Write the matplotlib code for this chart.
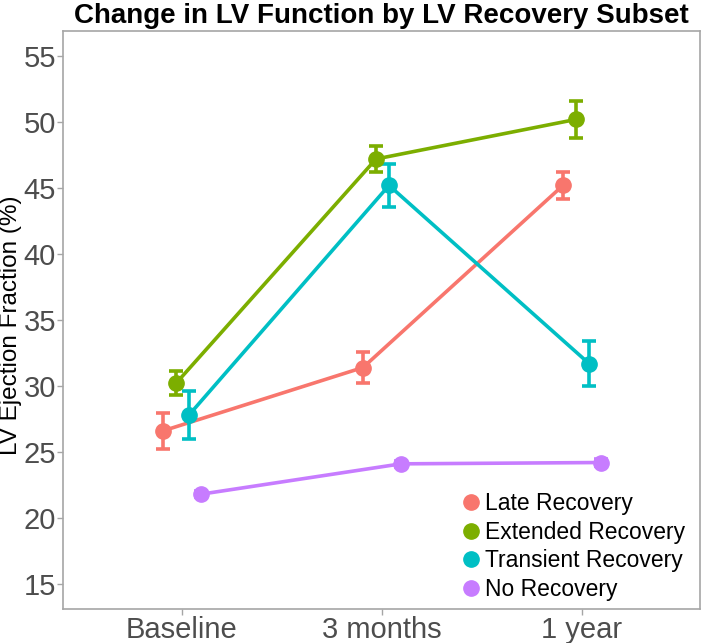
import matplotlib
matplotlib.use("Agg")
import matplotlib.pyplot as plt
from matplotlib.lines import Line2D

timepoints = ["Baseline", "3 months", "1 year"]
groups = ["Late Recovery", "Extended Recovery", "Transient Recovery", "No Recovery"]
colors = ["#F8766D", "#7CAE00", "#00BFC4", "#C77CFF"]

late_mean = [26.6, 31.4, 45.2]
late_err = [1.35, 1.2, 1.0]
extended_mean = [30.2, 47.2, 50.2]
extended_err = [0.9, 1.0, 1.4]
transient_mean = [27.8, 45.2, 31.7]
transient_err = [1.8, 1.6, 1.7]
none_mean = [21.8, 24.1, 24.2]
none_err = [0.25, 0.25, 0.25]

means = [late_mean, extended_mean, transient_mean, none_mean]
errs = [late_err, extended_err, transient_err, none_err]
dodge = [-0.095, -0.03, 0.035, 0.095]

plt.rcParams["font.family"] = ["Liberation Sans", "DejaVu Sans"]

fig = plt.figure(figsize=(7.03, 6.43), dpi=100)
ax = fig.add_axes([63 / 703, 34 / 643, 637 / 703, 578 / 643])

x0 = range(1, len(timepoints) + 1)
for m, e, c, d in zip(means, errs, colors, dodge):
    xs = [x + d for x in x0]
    ax.plot(xs, m, "-", color=c, lw=2.6, zorder=2)
    ax.errorbar(xs, m, yerr=e, fmt="o", color=c, ms=11, elinewidth=2.6,
                capsize=5, capthick=2.6, zorder=3)

ax.set_xlim(0.405, 3.59)
ax.set_ylim(13.1, 56.9)
ax.set_xticks(list(x0))
ax.set_xticklabels(timepoints)
ax.set_yticks([15, 20, 25, 30, 35, 40, 45, 50, 55])
ax.tick_params(colors="#A6A6A6", labelcolor="#4D4D4D", labelsize=21,
               length=4, width=1)
ax.tick_params(axis="y", pad=1)
ax.tick_params(axis="x", pad=1)
for s in ax.spines.values():
    s.set_color("#A6A6A6")
    s.set_linewidth(1.2)

ax.set_ylabel("LV Ejection Fraction (%)", fontsize=17.5)
ax.yaxis.set_label_coords(-0.064, 0.491)
ax.set_title("Change in LV Function by LV Recovery Subset",
             fontsize=20, fontweight="bold", pad=6)

handles = [Line2D([], [], marker="o", ls="", color=c, ms=11) for c in colors]
ax.legend(handles, groups, loc="upper left", bbox_to_anchor=(453 / 703, 1 - 481 / 643),
          bbox_transform=fig.transFigure, frameon=False, fontsize=16.5,
          handlelength=0.6, handletextpad=0.3, labelspacing=0.24, borderpad=0)

fig.savefig("out.png", dpi=100)
